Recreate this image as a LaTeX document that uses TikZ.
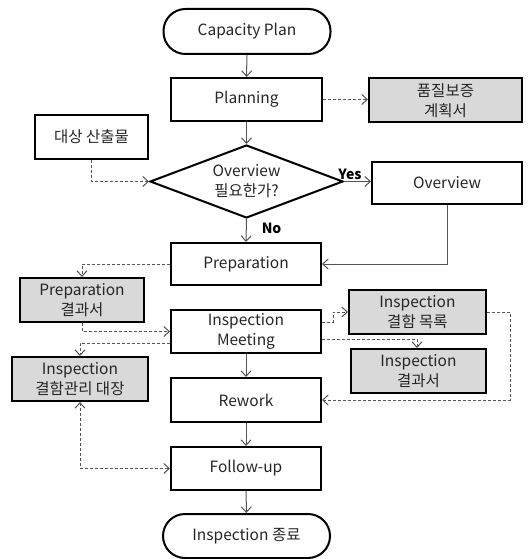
\documentclass[tikz,border=0pt]{standalone}
\usepackage{fontspec}
\setmainfont{Noto Sans CJK KR}
\usetikzlibrary{arrows.meta,shapes.geometric}
\definecolor{linegray}{HTML}{555555}
\definecolor{boxfill}{HTML}{D9D9D9}
\definecolor{txt}{HTML}{262626}
\tikzset{
  base/.style={draw=black,line width=2pt,font=\fontsize{15.5}{20}\selectfont,text=txt,align=center,inner sep=0pt},
  proc/.style={base,rectangle,minimum width=#1,minimum height=43pt},
  doc/.style={base,rectangle,fill=boxfill,minimum width=#1,minimum height=44pt},
  term/.style={base,rectangle,rounded corners=22pt,minimum width=167pt,minimum height=45pt},
  decide/.style={base,diamond,aspect=2.64,minimum width=193pt,minimum height=73pt},
  flow/.style={draw=linegray,line width=1pt,-{Straight Barb[length=5.5pt,width=10pt]}},
  dflow/.style={flow,dash pattern=on 3pt off 2pt},
  lab/.style={font=\bfseries\fontsize{14}{16}\selectfont,text=black,inner sep=1pt}
}
\begin{document}
\begin{tikzpicture}[x=1pt,y=-1pt]
\useasboundingbox (0,0) rectangle (530,559);
\node[term] (cap) at (247,31.5) {Capacity Plan};
\node[proc=151pt] (plan) at (246.5,99.5) {Planning};
\node[doc=153pt] (qa) at (445.5,100.5) {품질보증\\계획서};
\node[proc=113pt,minimum height=44pt] (target) at (91.5,137) {대상 산출물};
\node[decide] (dia) at (246.5,181.5) {Overview\\필요한가?};
\node[proc=150pt,minimum height=42pt] (ov) at (447,183) {Overview};
\node[proc=150pt,minimum height=42pt] (prep) at (246,264) {Preparation};
\node[doc=124pt] (prepres) at (82,300) {Preparation\\결과서};
\node[proc=150pt] (meet) at (246,331.5) {Inspection\\Meeting};
\node[doc=137pt] (list) at (417.5,312) {Inspection\\결함 목록};
\node[doc=135pt] (result) at (418.5,371) {Inspection\\결과서};
\node[doc=136pt] (defect) at (80,379) {Inspection\\결함관리 대장};
\node[proc=150pt,minimum height=44pt] (rework) at (246,400) {Rework};
\node[proc=150pt] (follow) at (246,468.5) {Follow-up};
\node[term,minimum height=44pt] (end) at (246.5,536) {Inspection 종료};

\draw[flow] (cap) -- (plan);
\draw[flow] (plan) -- (dia);
\draw[dflow] (plan.east) -- (qa.west |- plan.east);
\draw[dflow] (target.south) |- (dia.west);
\draw[flow] (dia.east) -- (ov.west |- dia.east) node[lab,pos=0.22,above=0pt] (yes) {Yes};
\draw[flow] (dia.south) -- (prep.north) node[lab,pos=0.4,right=14pt] (no) {No};
\draw[flow] (ov.south) |- (prep.east);
\draw[dflow] (prep.west) -| (prepres.north);
\draw[dflow] (prepres.south) |- (meet.west);
\draw[dflow] ([yshift=-11.5pt]meet.west) -| (defect.north);
\draw[flow] (meet) -- (rework);
\draw[dflow] ([yshift=9.5pt]meet.east) -- ++(11,0) |- (list.west);
\draw[dflow] ([yshift=-7.5pt]meet.east) -| ([xshift=-1.5pt]result.north);
\draw[dflow] (list.east) -- ++(23,0) |- (rework.east);
\draw[flow] (rework) -- (follow);
\draw[flow] (follow) -- (end);
\draw[dflow,{Straight Barb[length=5.5pt,width=10pt]}-{Straight Barb[length=5.5pt,width=10pt]}] (defect.south) |- (follow.west);
\end{tikzpicture}
\end{document}
